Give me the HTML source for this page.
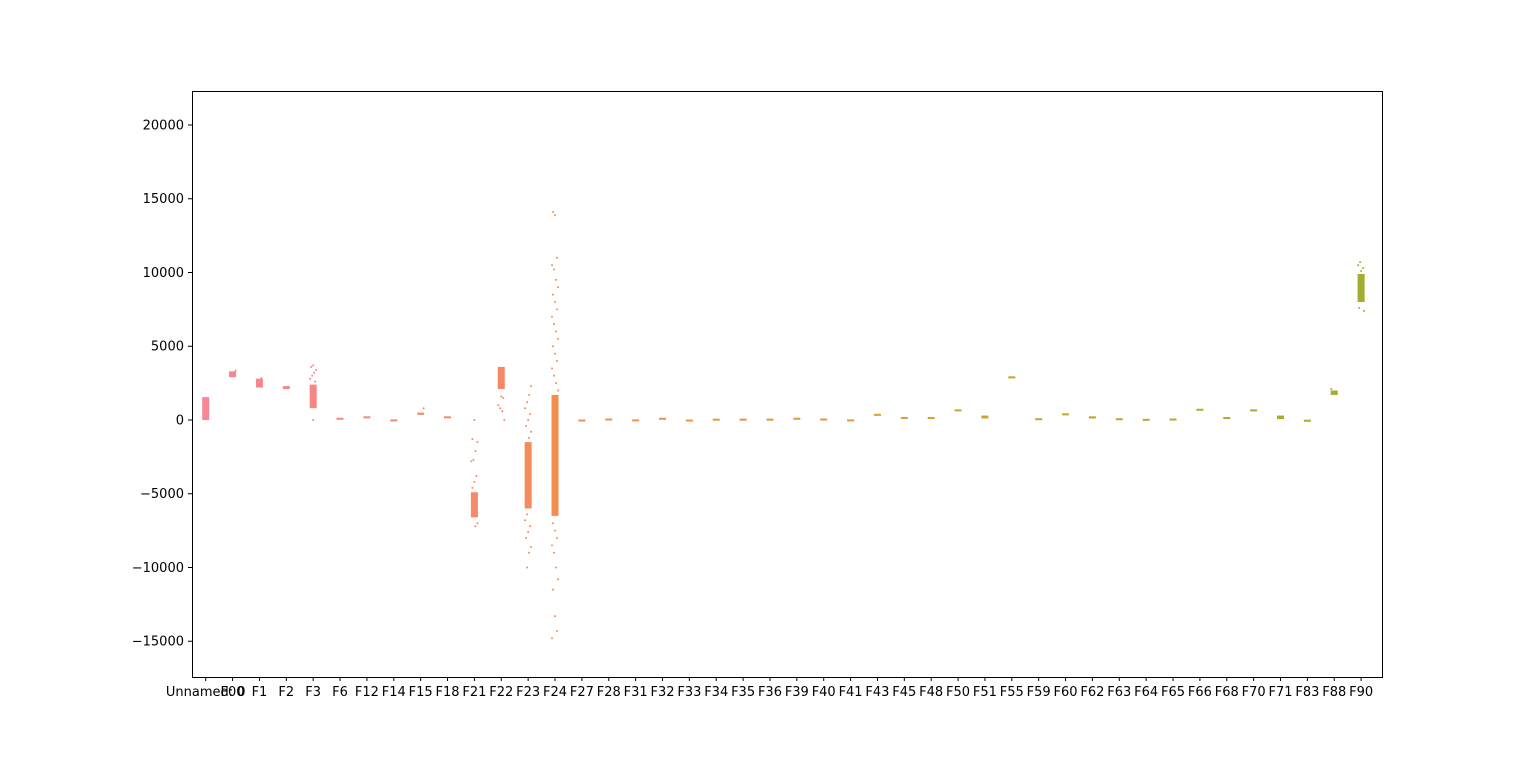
<!DOCTYPE html>
<html><head><meta charset="utf-8"><style>
html,body{margin:0;padding:0;background:#fff;}
svg text{font-family:"DejaVu Sans","Liberation Sans",sans-serif;font-size:13px;fill:#000;}
</style></head><body>
<svg id="chart" width="1536" height="761">
<rect x="0" y="0" width="1536" height="761" fill="#fff"/>
<g id="marks"></g>
<rect x="192.5" y="91.5" width="1190" height="586" fill="none" stroke="#000" stroke-width="1"/>
<g id="axes"></g>
</svg>
<script>
const categories = ["Unnamed: 0","F00","F1","F2","F3","F6","F12","F14","F15","F18","F21","F22","F23","F24","F27","F28","F31","F32","F33","F34","F35","F36","F39","F40","F41","F43","F45","F48","F50","F51","F55","F59","F60","F62","F63","F64","F65","F66","F68","F70","F71","F83","F88","F90"];
const bandLow  = [0,2900,2200,2100,800,50,150,-50,350,150,-6600,2100,-6000,-6500,-60,30,-60,60,-60,30,30,30,80,10,-40,320,120,120,600,100,2820,0,350,100,0,0,0,650,120,600,60,-40,1700,8000];
const bandHigh = [1550,3300,2800,2300,2400,150,250,40,500,250,-4900,3600,-1500,1700,30,100,40,150,30,90,90,90,150,100,40,420,200,200,720,300,2960,120,450,250,120,80,100,760,200,720,300,20,2000,9900];
const outliers = [
 [],[3350],[2850],[],[0,2600,2800,3000,3200,3400,3600,3700],[],[],[],[800],[],
 [-7200,-7000,-4600,-4200,-3800,-2800,-2700,-2100,-1500,-1300,0],
 [1600,1500,1000,800,600,0],
 [-10000,-9000,-8600,-8000,-7600,-7200,-6800,-6400,-1200,-800,-400,0,400,800,1200,1700,2300],
 [14100,13900,11000,10500,10200,9500,9000,8500,8000,7500,7000,6500,6000,5500,5000,4500,4000,3500,3000,2500,2000,-7000,-7500,-8000,-8500,-9000,-10000,-10800,-11500,-13300,-14300,-14800],
 [],[],[],[],[],[],[],[],[],[],[],[],[],[],[],[],[],[],[],[],[],[],[],[],[],[],[],[],[2100],[7400,7600,10100,10300,10500,10700]
];
const yTicks = [-15000,-10000,-5000,0,5000,10000,15000,20000];

const L=192,R=1382,T=91,B=677,yMin=-17424,yMax=22305;
const X0=205.7,XS=26.87;
function xScale(i){return X0+i*XS;}
function yScale(v){return B-(v-yMin)/(yMax-yMin)*(B-T);}
const keys=[[0,[248,134,150]],[11,[245,137,100]],[13,[243,142,78]],[30,[205,162,50]],[43,[162,172,46]]];
function color(i){for(let k=0;k<keys.length-1;k++){const [a,ca]=keys[k],[b,cb]=keys[k+1];if(i>=a&&i<=b){const t=(i-a)/(b-a);return 'rgb('+ca.map((c,j)=>Math.round(c+(cb[j]-c)*t)).join(',')+')';}}return 'rgb(162,172,46)';}
const NS='http://www.w3.org/2000/svg';
const marks=document.getElementById('marks'),axes=document.getElementById('axes');
categories.forEach((c,i)=>{
  const x=xScale(i),col=color(i);
  const r=document.createElementNS(NS,'rect');
  const y1=yScale(bandHigh[i]),y2=yScale(bandLow[i]);
  r.setAttribute('x',x-3.5);r.setAttribute('width',7);
  r.setAttribute('y',y1);r.setAttribute('height',Math.max(2,y2-y1));
  r.setAttribute('fill',col);
  
  
  marks.appendChild(r);
  outliers[i].forEach((v,k)=>{
    const p=document.createElementNS(NS,'circle');
    const jit=((k*37+i*13)%7)-3;
    p.setAttribute('cx',x+jit);p.setAttribute('cy',yScale(v));p.setAttribute('r',1);
    p.setAttribute('fill',col);
    
    
    marks.appendChild(p);
  });
  const tk=document.createElementNS(NS,'line');
  tk.setAttribute('x1',x);tk.setAttribute('x2',x);tk.setAttribute('y1',B);tk.setAttribute('y2',B+4);tk.setAttribute('stroke','#000');
  
  
  axes.appendChild(tk);
  const t=document.createElementNS(NS,'text');
  t.setAttribute('x',x);t.setAttribute('y',B+19);t.setAttribute('text-anchor','middle');t.textContent=c;
  
  
  axes.appendChild(t);
});
yTicks.forEach(v=>{
  const y=yScale(v);
  const tk=document.createElementNS(NS,'line');
  tk.setAttribute('x1',L-4);tk.setAttribute('x2',L);tk.setAttribute('y1',y);tk.setAttribute('y2',y);tk.setAttribute('stroke','#000');
  
  
  axes.appendChild(tk);
  const t=document.createElementNS(NS,'text');
  t.setAttribute('x',L-8);t.setAttribute('y',y+4.5);t.setAttribute('text-anchor','end');
  t.textContent=v<0?'\u2212'+Math.abs(v):String(v);
  
  
  axes.appendChild(t);
});
</script>
</body></html>
